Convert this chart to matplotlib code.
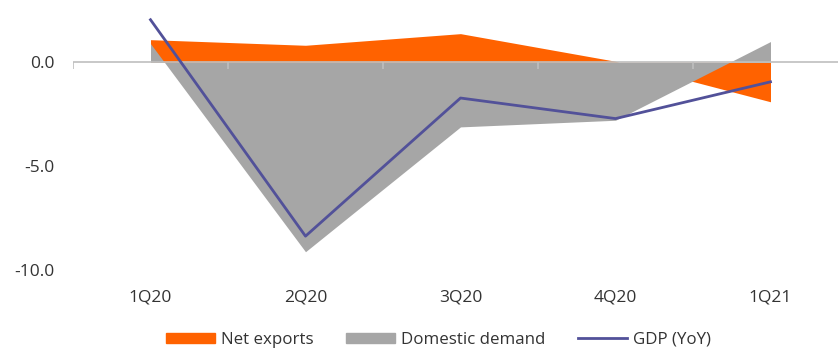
import matplotlib.pyplot as plt
import matplotlib.patches as mpatches
from matplotlib.lines import Line2D

plt.rcParams['font.family'] = ['Open Sans', 'DejaVu Sans']

quarters = ['1Q20', '2Q20', '3Q20', '4Q20', '1Q21']
net_exports = [1.09, 0.82, 1.38, 0.05, -1.9]
domestic_demand = [0.9, -9.12, -3.11, -2.79, 1.0]
gdp_yoy = [2.05, -8.37, -1.72, -2.71, -0.94]

orange = '#FF6200'
grey = '#A6A6A6'
purple = '#525199'
text_col = '#333333'

fig = plt.figure(figsize=(8.38, 3.5), dpi=100)
# plot area runs a little past the right edge of the figure
ax = fig.add_axes([73 / 838, 80 / 350, 775 / 838, 270 / 350])

x = list(range(len(quarters)))
ax.fill_between(x, 0, net_exports, color=orange, linewidth=0, zorder=1)
ax.fill_between(x, 0, domestic_demand, color=grey, linewidth=0, zorder=2)
ax.plot(x, gdp_yoy, color=purple, linewidth=2.0, zorder=4)

# category axis sits at zero with small ticks between the quarters
ax.axhline(0, color='#BFBFBF', linewidth=1.2, zorder=3)
ax.vlines([i - 0.5 for i in range(len(quarters) + 1)], -0.3, 0,
          color='#BFBFBF', linewidth=1.2, zorder=3)

ax.set_xlim(-0.5, len(quarters) - 0.5)
ax.set_ylim(-10, 3)
ax.set_yticks([0, -5, -10])
ax.set_yticklabels(['0.0', '-5.0', '-10.0'])
ax.set_xticks(x)
ax.set_xticklabels(quarters)
ax.tick_params(axis='x', length=0, pad=14, labelsize=12.5, labelcolor=text_col)
ax.tick_params(axis='y', length=0, pad=13, labelsize=12.5, labelcolor=text_col)
for side in ['top', 'right', 'left', 'bottom']:
    ax.spines[side].set_visible(False)

handles = [
    mpatches.Patch(color=orange, label='Net exports'),
    mpatches.Patch(color=grey, label='Domestic demand'),
    Line2D([], [], color=purple, linewidth=2.0, label='GDP (YoY)'),
]
leg = fig.legend(handles=handles, loc='center', bbox_to_anchor=(0.523, 10 / 350),
                 ncol=3, frameon=False, fontsize=12.2, handlelength=2.9, handleheight=0.6,
                 handletextpad=0.35, columnspacing=1.9, borderpad=0.2)
for t in leg.get_texts():
    t.set_color(text_col)

fig.savefig('out.png', dpi=100)
